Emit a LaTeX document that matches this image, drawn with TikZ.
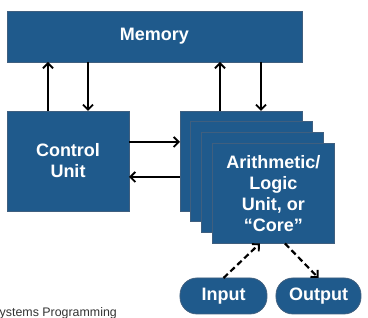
\documentclass[tikz,border=0pt]{standalone}
\usepackage{fontspec}
\setmainfont{Liberation Sans}
\usetikzlibrary{arrows.meta}
\definecolor{unitblue}{HTML}{1F5A8C}
\definecolor{unitedge}{HTML}{3F5F7F}
\definecolor{footgray}{HTML}{333333}
\begin{document}
\begin{tikzpicture}[x=1pt,y=-1pt,
  unit/.style={draw=unitedge, line width=0.8pt, fill=unitblue, text=white,
    font=\fontsize{18}{21}\selectfont\bfseries, align=center,
    inner sep=0pt, outer sep=0pt},
  pill/.style={unit, rounded corners=17pt, minimum height=36pt},
  bus/.style={line width=2.2pt, -{Straight Barb[length=5pt,width=10pt,line width=1.9pt]}},
  iobus/.style={bus, dash pattern=on 6pt off 3.5pt}]
\useasboundingbox (0,0) rectangle (368,318);

% main memory across the top
\node[unit, minimum width=295pt, minimum height=51pt] (mem) at (154.5,36.5) {Memory};

% control unit
\node[unit, minimum width=122pt, minimum height=100pt] (ctrl) at (68,161) {Control\\Unit};

% stack of processing cores
\node[unit, minimum width=122pt, minimum height=100pt] (alu0) at (241,161) {};
\node[unit, minimum width=122pt, minimum height=100pt] (alu1) at (251.8,171.8) {};
\node[unit, minimum width=122pt, minimum height=100pt] (alu2) at (262.6,182.6) {};
\node[unit, minimum width=122pt, minimum height=100pt] (alu3) at (273.4,193.4)
  {Arithmetic/\\Logic\\Unit, or\\\char"201C Core\char"201D};

% input and output devices
\node[pill, minimum width=87pt] (in) at (223.5,296) {Input};
\node[pill, minimum width=85pt] (out) at (318.5,296) {Output};

% memory <-> control unit
\draw[bus] ([xshift=-20pt]ctrl.north) -- ([xshift=-20pt]ctrl.north |- mem.south);
\draw[bus] ([xshift=20pt]ctrl.north |- mem.south) -- ([xshift=20pt]ctrl.north);

% memory <-> cores
\draw[bus] ([xshift=-21pt]alu0.north) -- ([xshift=-21pt]alu0.north |- mem.south);
\draw[bus] ([xshift=20pt]alu0.north |- mem.south) -- ([xshift=20pt]alu0.north);

% control unit <-> cores
\draw[bus] ([yshift=19pt]ctrl.east) -- ([yshift=19pt]ctrl.east -| alu0.west);
\draw[bus] ([yshift=-16pt]ctrl.east -| alu0.west) -- ([yshift=-16pt]ctrl.east);

% I/O
\draw[iobus] (in.north) -- ([xshift=-13.5pt]alu3.south);
\draw[iobus] ([xshift=11.5pt]alu3.south) -- (out.north);

% footer
\node[anchor=base west, inner sep=0pt, text=footgray, font=\fontsize{12.4}{14}\selectfont]
  (foot) at (-0.5,316.5) {ystems Programming};
\end{tikzpicture}
\end{document}
